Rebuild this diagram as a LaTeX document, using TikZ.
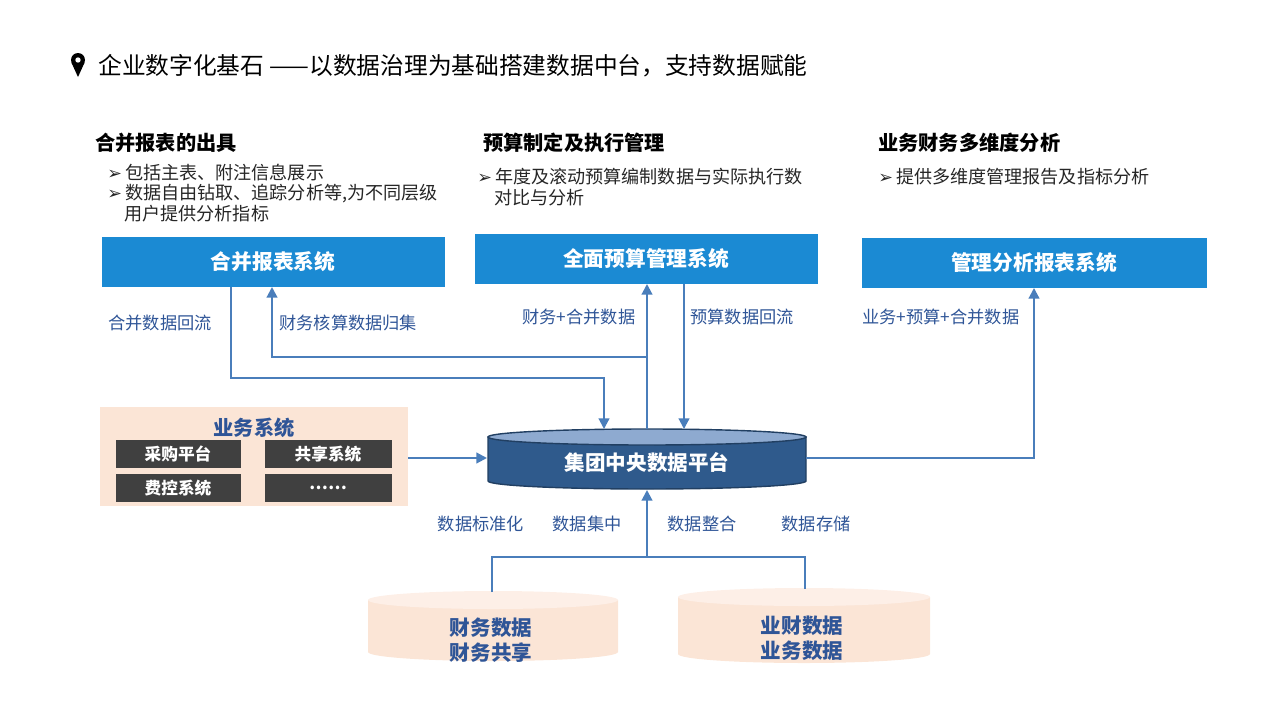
\documentclass[tikz,border=0pt]{standalone}
\usepackage{fontspec}
\setmainfont{Noto Sans CJK SC}
\newfontfamily\symf{DejaVu Sans}
\usetikzlibrary{arrows.meta}
\definecolor{bbox}{HTML}{1B8AD3}
\definecolor{lbl}{HTML}{2F5597}
\definecolor{peach}{HTML}{FBE5D6}
\definecolor{dark}{HTML}{404040}
\definecolor{cyl}{HTML}{2F5A8C}
\definecolor{cyltop}{HTML}{8EAAD0}
\definecolor{ln}{HTML}{4A7EBB}
\definecolor{pin}{HTML}{6A4C93}
\newcommand{\arr}{{\symf\fontsize{10}{10}\selectfont ➢}\,}
\tikzset{
 head/.style={anchor=west,font=\bfseries\fontsize{11.5}{13}\selectfont,inner sep=0},
 bul/.style={anchor=west,font=\fontsize{10.3}{12}\selectfont,inner sep=0,text=black!85},
 lab/.style={text=lbl,font=\fontsize{9.8}{11}\selectfont,inner sep=0},
 systxt/.style={text=white,font=\bfseries\fontsize{11.8}{13}\selectfont},
 dtxt/.style={text=white,font=\bfseries\fontsize{9.5}{11}\selectfont},
 conn/.style={draw=ln,line width=1.2pt,-{Triangle[length=6pt,width=6pt]}},
 plain/.style={draw=ln,line width=1.2pt},
 cyltext/.style={font=\bfseries\fontsize{11.7}{14}\selectfont,align=center,inner sep=0}
}
\begin{document}
\begin{tikzpicture}[x=0.02cm,y=-0.02cm]
\useasboundingbox (0,0) rectangle (1280,720);
% title
\fill[pin] (78,60) circle (7) ;
\fill[pin] (71.4,62.5) -- (78,77) -- (84.6,62.5) -- cycle;
\fill[white] (78,60) circle (2.7);
\node[anchor=west,inner sep=0,font=\fontsize{13.5}{15}\selectfont] (title) at (98,66) {企业数字化基石 ——以数据治理为基础搭建数据中台，支持数据赋能};
% headings
\node[head] (h1) at (95,143) {合并报表的出具};
\node[bul] (b11) at (107,173) {\arr 包括主表、附注信息展示};
\node[bul] (b12) at (107,194) {\arr 数据自由钻取、追踪分析等,为不同层级};
\node[bul] (b13) at (124,214) {用户提供分析指标};
\node[head] (h2) at (483,143) {预算制定及执行管理};
\node[bul] (b21) at (477,177) {\arr 年度及滚动预算编制数据与实际执行数};
\node[bul] (b22) at (494,198) {对比与分析};
\node[head] (h3) at (878,143) {业务财务多维度分析};
\node[bul] (b31) at (878,177) {\arr 提供多维度管理报告及指标分析};
% system boxes
\fill[bbox] (102,237) rectangle (445,287);
\node[systxt] (s1) at (273,262) {合并报表系统};
\fill[bbox] (475,234) rectangle (818,284);
\node[systxt] (s2) at (646,259) {全面预算管理系统};
\fill[bbox] (862,238) rectangle (1207,288);
\node[systxt] (s3) at (1034,263) {管理分析报表系统};
% labels
\node[lab,anchor=west] (l1) at (108,323) {合并数据回流};
\node[lab,anchor=west] (l2) at (279,323) {财务核算数据归集};
\node[lab,anchor=west] (l3) at (522,317) {财务+合并数据};
\node[lab,anchor=west] (l4) at (690,317) {预算数据回流};
\node[lab,anchor=west] (l5) at (862,317) {业务+预算+合并数据};
% business box
\fill[peach] (100,407) rectangle (408,506);
\node[text=lbl,font=\bfseries\fontsize{11.5}{12}\selectfont] (bt) at (254,428) {业务系统};
\fill[dark] (116,440) rectangle (241,468); \node[dtxt] (d1) at (178,454) {采购平台};
\fill[dark] (265,440) rectangle (392,468); \node[dtxt] (d2) at (328,454) {共享系统};
\fill[dark] (116,474) rectangle (241,502); \node[dtxt] (d3) at (178,488) {费控系统};
\fill[dark] (265,474) rectangle (392,502); \node[dtxt] (d4) at (328,488) {……};
% central cylinder
\filldraw[fill=cyl,draw=cyl!70!black,line width=0.8pt] (488,437) -- (488,481) arc[start angle=180,end angle=360,x radius=159,y radius=-8] -- (806,437) -- cycle;
\filldraw[fill=cyltop,draw=cyl!70!black,line width=0.8pt] (647,437) ellipse [x radius=159,y radius=8];
\node[text=white,cyltext] (cp) at (647,462) {集团中央数据平台};
% bottom cylinders
\fill[peach] (368,600) -- (368,652) arc[start angle=180,end angle=360,x radius=125,y radius=-9] -- (618,600) -- cycle;
\fill[peach!60!white] (493,600) ellipse [x radius=125,y radius=9];
\node[text=lbl,cyltext] (fd) at (491,640) {财务数据\\财务共享};
\fill[peach] (678,597) -- (678,654) arc[start angle=180,end angle=360,x radius=126,y radius=-9] -- (930,597) -- cycle;
\fill[peach!60!white] (804,597) ellipse [x radius=126,y radius=9];
\node[text=lbl,cyltext] (yd) at (802,638) {业财数据\\业务数据};
% below labels
\node[lab] (m1) at (481,524) {数据标准化};
\node[lab] (m2) at (587,524) {数据集中};
\node[lab] (m3) at (702,524) {数据整合};
\node[lab] (m4) at (816,524) {数据存储};
% connectors
\coordinate (s1a) at (231,287); \coordinate (c1) at (604,429);
\draw[conn] (s1a) |- (604,378) -- (c1);
\coordinate (s1b) at (272,287); \coordinate (c2) at (647,429);
\draw[conn] (647,357) -| (s1b);
\coordinate (s2a) at (647,284);
\draw[conn] (c2) -- (s2a);
\coordinate (s2b) at (684,284); \coordinate (c3) at (684,429);
\draw[conn] (s2b) -- (c3);
\coordinate (cr) at (806,458); \coordinate (s3a) at (1034,288);
\draw[conn] (cr) -| (s3a);
\coordinate (bl) at (408,458); \coordinate (cl) at (487,458);
\draw[conn] (bl) -- (cl);
\coordinate (f1) at (492,592); \coordinate (f2) at (805,589); \coordinate (cb) at (647,490);
\draw[plain] (f1) |- (647,557) -| (f2);
\draw[conn] (647,557) -- (cb);
\end{tikzpicture}
\end{document}
